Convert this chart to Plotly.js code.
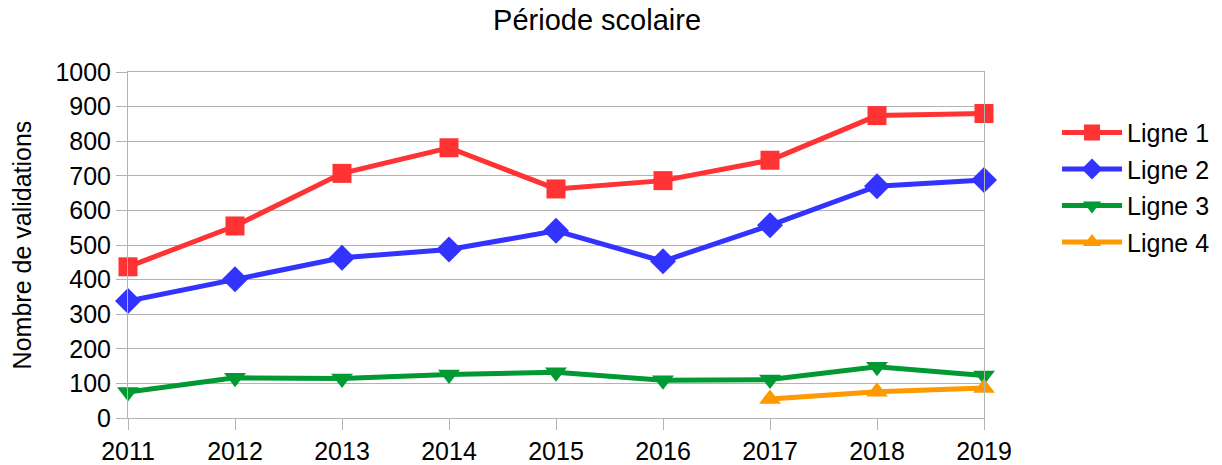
<!DOCTYPE html>
<html>
<head>
<meta charset="utf-8">
<script src="https://cdn.plot.ly/plotly-3.0.1.min.js"></script>
<style>html,body{margin:0;padding:0;background:#fff;}#chart{width:1222px;height:465px;}</style>
</head>
<body>
<div id="chart"></div>
<script>
const years = [2011, 2012, 2013, 2014, 2015, 2016, 2017, 2018, 2019];
const ligne1 = [437, 555, 707, 781, 662, 686, 745, 874, 880];
const ligne2 = [338, 401, 463, 487, 541, 453, 557, 670, 688];
const ligne3 = [75, 116, 114, 126, 132, 109, 111, 148, 123];
const ligne4Years = [2017, 2018, 2019];
const ligne4 = [55, 76, 87];
const seriesNames = ["Ligne 1", "Ligne 2", "Ligne 3", "Ligne 4"];
const yTicks = [0,100,200,300,400,500,600,700,800,900,1000];

const font = "Liberation Sans, Arial, sans-serif";
function tr(x, y, name, color, symbol, size) {
  return {x: x, y: y, name: name, legendgroup: name, type: "scatter", mode: "lines+markers", cliponaxis: false,
    line: {color: color, width: 5},
    marker: {color: color, symbol: symbol, size: size, line: {width: 0}}};
}
const data = [
  tr(years, ligne1, seriesNames[0], "#ff3333", "square", 19),
  tr(years, ligne2, seriesNames[1], "#3333ff", "diamond", 20),
  tr(years, ligne3, seriesNames[2], "#009933", "triangle-down", 19),
  tr(ligne4Years, ligne4, seriesNames[3], "#ff9900", "triangle-up", 19)
];
const layout = {
  width: 1222, height: 465,
  margin: {l: 128, r: 238, t: 72, b: 47},
  paper_bgcolor: "#fff", plot_bgcolor: "#fff",
  font: {family: font, size: 25, color: "#000"},
  title: {text: "Période scolaire", font: {family: font, size: 29, color: "#000"}, x: 0.548, xref: "paper", xanchor: "center", y: 0.957, yref: "container", yanchor: "middle"},
  xaxis: {range: [2011, 2019], tickvals: years, ticktext: years.map(String), showgrid: false,
    showline: true, linecolor: "#b3b3b3", linewidth: 1, mirror: true,
    ticks: "outside", ticklen: 11, tickcolor: "#b3b3b3", tickfont: {size: 25}, zeroline: false, fixedrange: true},
  yaxis: {range: [0, 1000], tickvals: yTicks, showgrid: true, gridcolor: "#b3b3b3", gridwidth: 1,
    showline: true, linecolor: "#b3b3b3", linewidth: 1, mirror: true,
    ticks: "outside", ticklen: 11, tickcolor: "#b3b3b3", tickfont: {size: 25}, zeroline: false,
    title: {text: "Nombre de validations", font: {size: 25}, standoff: 16}},
  showlegend: true,
  legend: {xref: "container", yref: "container", x: 0.865, xanchor: "left", y: 0.764, yanchor: "top",
    font: {size: 25}, itemwidth: 60, traceorder: "grouped", tracegroupgap: 1, bgcolor: "rgba(0,0,0,0)"}
};
Plotly.newPlot("chart", data, layout, {displayModeBar: false, staticPlot: true});
</script>
</body>
</html>
